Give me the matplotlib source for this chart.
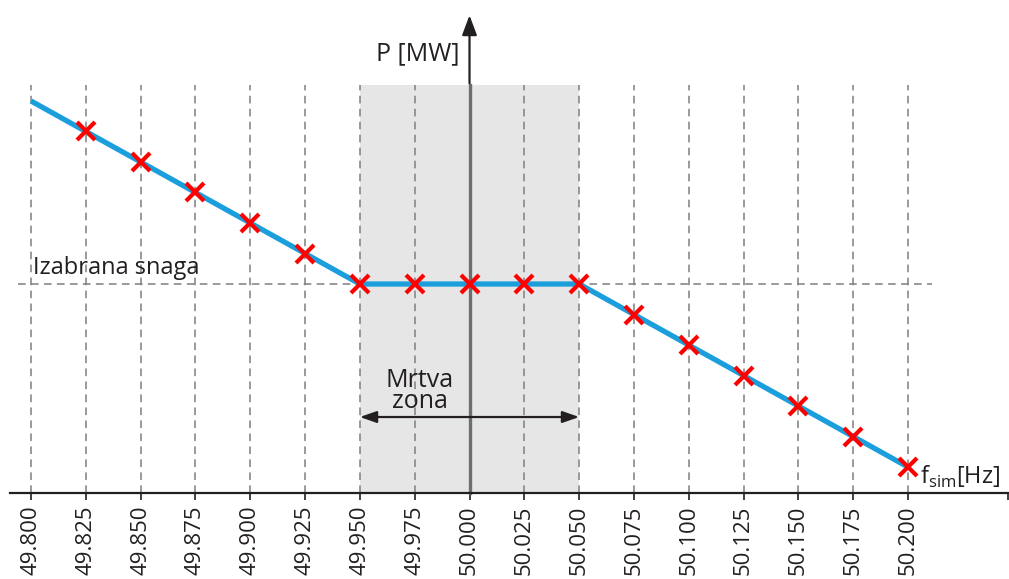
import matplotlib
matplotlib.use("Agg")
import matplotlib.pyplot as plt
import numpy as np

plt.rcParams['font.family'] = ['Open Sans', 'DejaVu Sans']

# data
freq = [49.800, 49.825, 49.850, 49.875, 49.900, 49.925, 49.950, 49.975, 50.000,
        50.025, 50.050, 50.075, 50.100, 50.125, 50.150, 50.175, 50.200]
power = [12.85, 11.85, 10.85, 9.85, 8.85, 7.85, 6.85, 6.85, 6.85,
         6.85, 6.85, 5.85, 4.85, 3.85, 2.85, 1.85, 0.85]
tick_labels = ['%.3f' % f for f in freq]
dead_band = (49.950, 50.050)
p_selected = 6.85

fig = plt.figure(figsize=(10.09, 5.79), dpi=100)
ax = fig.add_axes([0, 0, 1, 1])
ax.set_xlim(49.78586, 50.24606)
ax.set_ylim(-2.82, 16.16)

grid_top = 13.36
dash = (0, (5, 3.5))

# dead band shading
ax.fill_between(dead_band, 0, grid_top, color='#e6e6e6', lw=0, zorder=0)

# vertical dashed grid
for f in freq:
    ax.plot([f, f], [0, grid_top], ls=dash, color='#7f7f7f', lw=1.1, zorder=1)

# selected power line
ax.plot([49.794, 50.211], [p_selected, p_selected], ls=dash, color='#7f7f7f', lw=1.1, zorder=1)

# y axis (grey inside band, black arrow above)
ax.plot([50.0, 50.0], [0, grid_top], color='#6e6e6e', lw=2.4, zorder=2)
ax.annotate('', xy=(50.0, 15.75), xytext=(50.0, grid_top - 0.02),
            arrowprops=dict(arrowstyle='-|>,head_length=1.2,head_width=0.45',
                            color='#231f20', lw=1.6), zorder=3)
ax.text(49.9955, 14.4, 'P [MW]', ha='right', va='center', fontsize=18, color='#231f20')

# curve
ax.plot(freq, power, color='#1b9fdc', lw=3.8, zorder=4, solid_capstyle='butt')
ax.plot(freq[1:], power[1:], ls='none', marker='x', ms=13, mew=3, color='#ff0000', zorder=5)

ax.text(49.801, p_selected + 0.12, 'Izabrana snaga', ha='left', va='bottom', fontsize=17, color='#231f20')

# dead band arrow
ax.annotate('', xy=(dead_band[0], 2.49), xytext=(dead_band[1], 2.49),
            arrowprops=dict(arrowstyle='<|-|>,head_length=1.0,head_width=0.35',
                            color='#231f20', lw=1.6, shrinkA=0, shrinkB=0), zorder=6)
ax.text(49.9774, 3.35, 'Mrtva\nzona', ha='center', va='center', fontsize=18,
        linespacing=0.8, color='#231f20')

ax.text(50.2055, 0.1, r'f$_{\mathregular{sim}}$[Hz]', ha='left', va='bottom', fontsize=17, color='#231f20')

# x axis
for s in ['left', 'right', 'top']:
    ax.spines[s].set_visible(False)
ax.spines['bottom'].set_position(('data', 0))
ax.spines['bottom'].set_bounds(49.7904, 50.2456)
ax.spines['bottom'].set_color('#231f20')
ax.spines['bottom'].set_linewidth(1.6)
ax.set_xticks(freq)
ax.set_xticks([50.2456], minor=True)
ax.set_xticklabels(tick_labels, rotation=90, fontsize=16, color='#231f20')
ax.tick_params(axis='x', which='both', direction='out', length=5, width=1.2, color='#231f20', pad=4)
ax.set_yticks([])

fig.savefig('out.png', dpi=100)
